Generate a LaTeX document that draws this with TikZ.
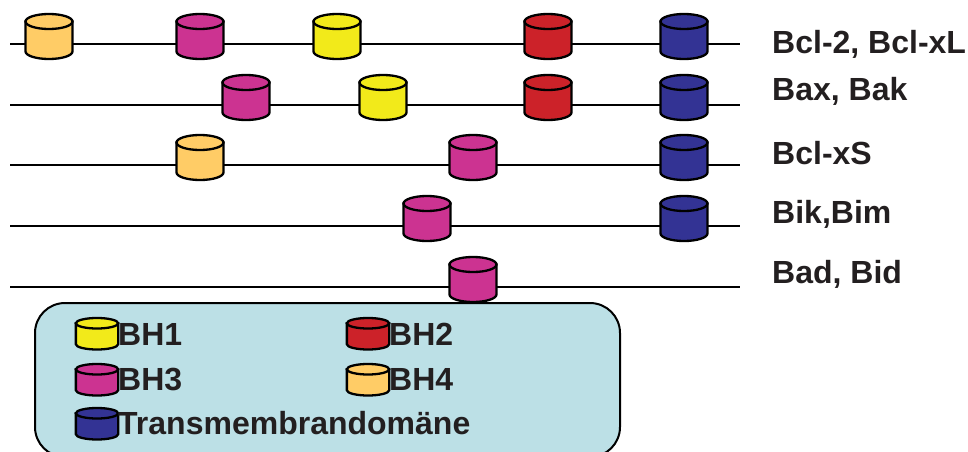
\documentclass[tikz,border=0pt]{standalone}
\usepackage{fontspec}
\setmainfont{Liberation Sans}
\usetikzlibrary{calc}
\definecolor{BHoneClr}{RGB}{242,234,26}
\definecolor{BHtwoClr}{RGB}{204,34,41}
\definecolor{BHthreeClr}{RGB}{204,51,145}
\definecolor{BHfourClr}{RGB}{255,204,102}
\definecolor{TMClr}{RGB}{51,51,148}
\definecolor{BoxClr}{RGB}{188,224,230}
\definecolor{TextClr}{RGB}{35,31,32}

\tikzset{
  chain/.style={line width=2pt,color=black},
  lbl/.style={anchor=base west,inner sep=0pt,text=TextClr,
    font=\bfseries\fontsize{32}{38}\selectfont},
  pics/dom/.style={code={
    \filldraw[fill=#1,line width=2.3pt] (-23.5,22.5) -- (-23.5,-7.5)
      arc[start angle=180,end angle=360,x radius=23.5,y radius=7.5] -- (23.5,22.5) -- cycle;
    \filldraw[fill=#1,line width=2.3pt] (0,22.5) ellipse[x radius=23.5,y radius=7.5];
  }}
}

\begin{document}
\begin{tikzpicture}[x=1pt,y=1pt]
\useasboundingbox (0,0) rectangle (968,451);
\clip (0,0) rectangle (968,451);

\draw[line width=2pt,fill=BoxClr,rounded corners=30pt] (35,148) rectangle (620,-6);

\coordinate (Ra) at (10,407); \coordinate (Rb) at (740,407);
\coordinate (Sa) at (10,346); \coordinate (Sb) at (740,346);
\coordinate (Ta) at (10,286); \coordinate (Tb) at (740,286);
\coordinate (Ua) at (10,225); \coordinate (Ub) at (740,225);
\coordinate (Va) at (10,164); \coordinate (Vb) at (740,164);
\draw[chain] (Ra) -- (Rb);
\draw[chain] (Sa) -- (Sb);
\draw[chain] (Ta) -- (Tb);
\draw[chain] (Ua) -- (Ub);
\draw[chain] (Va) -- (Vb);

\pic at (49,407) {dom=BHfourClr};
\pic at (200,407) {dom=BHthreeClr};
\pic at (337,407) {dom=BHoneClr};
\pic at (548,407) {dom=BHtwoClr};
\pic at (684,407) {dom=TMClr};

\pic at (246,346) {dom=BHthreeClr};
\pic at (383,346) {dom=BHoneClr};
\pic at (548,346) {dom=BHtwoClr};
\pic at (684,346) {dom=TMClr};

\pic at (200,286) {dom=BHfourClr};
\pic at (473,286) {dom=BHthreeClr};
\pic at (684,286) {dom=TMClr};

\pic at (427,225) {dom=BHthreeClr};
\pic at (684,225) {dom=TMClr};

\pic at (473,164) {dom=BHthreeClr};

\node[lbl] (bcl2) at (772,397) {Bcl-2, Bcl-xL};
\node[lbl] (bax) at (772,351) {Bax, Bak};
\node[lbl] (bclxs) at (772,287) {Bcl-xS};
\node[lbl] (bik) at (772,228) {Bik,Bim};
\node[lbl] (bad) at (772,168) {Bad, Bid};

\pic[xscale=.9,yscale=.7] at (97,112) {dom=BHoneClr};
\pic[xscale=.9,yscale=.7] at (368,112) {dom=BHtwoClr};
\pic[xscale=.9,yscale=.7] at (97,66) {dom=BHthreeClr};
\pic[xscale=.9,yscale=.7] at (368,66) {dom=BHfourClr};
\pic[xscale=.9,yscale=.7] at (97,22) {dom=TMClr};

\node[lbl] (bh1) at (118,106) {BH1};
\node[lbl] (bh2) at (389,106) {BH2};
\node[lbl] (bh3) at (118,61) {BH3};
\node[lbl] (bh4) at (389,61) {BH4};
\node[lbl] (tm) at (118,17) {Transmembrandomäne};
\end{tikzpicture}
\end{document}
